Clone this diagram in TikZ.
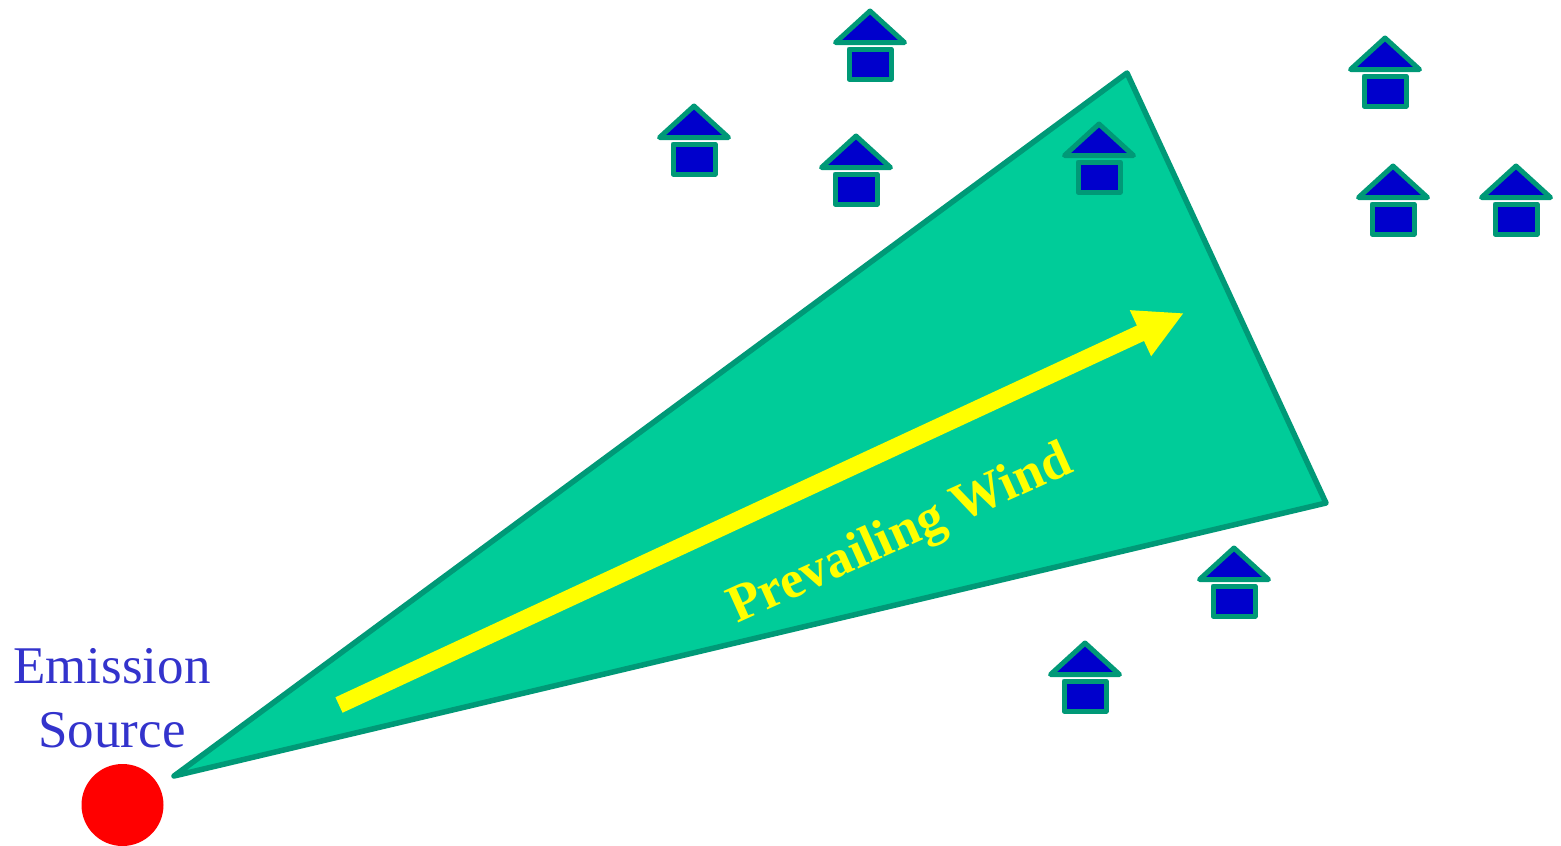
\documentclass[tikz,border=0pt]{standalone}
\usepackage{fontspec}
\setmainfont{Liberation Serif}
\usetikzlibrary{positioning,arrows.meta}
\definecolor{plumefill}{HTML}{00CC99}
\definecolor{plumeline}{HTML}{009977}
\definecolor{houseblue}{HTML}{0000CC}
\definecolor{labelblue}{HTML}{3333CC}
\definecolor{windyellow}{HTML}{FFFF00}
\definecolor{srcred}{HTML}{FF0000}

\begin{document}
\begin{tikzpicture}[
  x=1pt, y=-1pt,
  plume/.style={draw=plumeline, fill=plumefill, line width=5.5pt, line join=round},
  source/.style={circle, fill=srcred, minimum size=82pt, inner sep=0pt},
  srclabel/.style={text=labelblue, align=center, inner sep=0pt, font=\fontsize{53}{64}\selectfont},
  wind/.style={-{Triangle[length=48pt,width=47pt]}, windyellow, line width=17pt},
  windlabel/.style={text=windyellow, inner sep=0pt, font=\fontsize{53}{60}\selectfont\bfseries},
  housepart/.style={draw=plumeline, fill=houseblue, line width=5pt, line join=round},
  pics/house/.style={code={
    \draw[housepart] (0,3) -- (34.5,34.5) -- (-34.5,34.5) -- cycle;
    \draw[housepart] (-21,41) rectangle (21,71);
  }}]
\useasboundingbox (0,0) rectangle (1561,846);
\coordinate (apex) at (174,776);
\coordinate (far) at (1127,73);
\coordinate (near) at (1326,503);
\coordinate (tail) at (339,705);
\coordinate (tip) at (1184,313);
\draw[plume] (apex) -- (far) -- (near) -- cycle;
\draw[wind] (tail) -- (tip);
\node[windlabel, rotate=24.3] (prevailing) at (901,536) {Prevailing Wind};
\node[source] (src) at (122.5,805) {};
\node[srclabel, above=16pt of src, xshift=-10.5pt] (emission) {Emission\\Source};
% houses
\pic (h1) at (870,8) {house};
\pic (h2) at (1385,35) {house};
\pic (h3) at (694,103) {house};
\pic (h4) at (856,133) {house};
\pic (h5) at (1099,121) {house};
\pic (h6) at (1393,163) {house};
\pic (h7) at (1516,163) {house};
\pic (h8) at (1234,545) {house};
\pic (h9) at (1085,640) {house};
\end{tikzpicture}
\end{document}
